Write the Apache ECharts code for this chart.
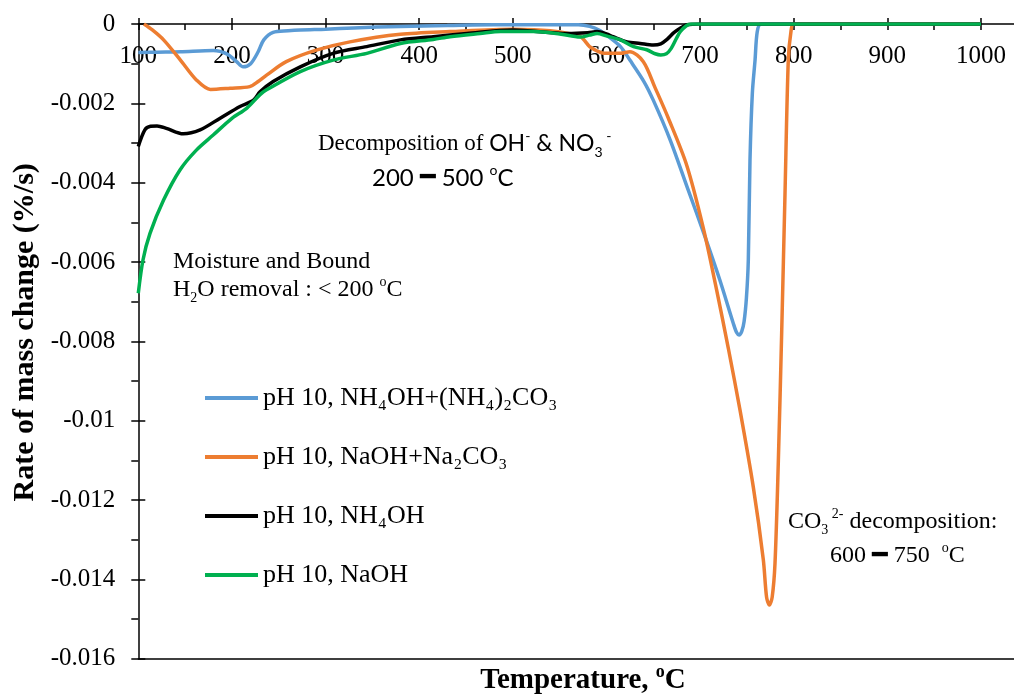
<!DOCTYPE html>
<html><head><meta charset="utf-8">
<script src="https://cdn.jsdelivr.net/npm/echarts@6/dist/echarts.min.js"></script>
<style>html,body{margin:0;padding:0;background:#fff}#c{width:1014px;height:695px}</style>
</head><body><div id="c"></div>
<script>
// ---- data ----
const seriesNames = ['pH 10, NH₄OH+(NH₄)₂CO₃', 'pH 10, NaOH+Na₂CO₃', 'pH 10, NH₄OH', 'pH 10, NaOH'];
const seriesColors = ['#5B9BD5', '#ED7D31', '#000000', '#00B050'];

const tempBlue = [100,120,145,180,195,205,212,220,228,234,244,260,273,300,330,380,430,480,520,570,582,592,600,615,625,640,650,668,686,704,721,735.5,739,741.6,744.5,747,749.5,751.5,753.3,755.8,758.7,761,765,800,900,1000];
const rateBlue = [-0.00072,-0.00071,-0.0007,-0.00067,-0.00076,-0.00095,-0.00108,-0.001,-0.0007,-0.0004,-0.00021,-0.00017,-0.00015,-0.00013,-0.0001,-0.00006,-0.00004,-0.00002,-0.00002,-0.00002,-0.00006,-0.00015,-0.00028,-0.00057,-0.00091,-0.00145,-0.00192,-0.00292,-0.0041,-0.00528,-0.00645,-0.00755,-0.00778,-0.00784,-0.00775,-0.0075,-0.0069,-0.00595,-0.00343,-0.00175,-0.00091,-0.0002,0,0,0,0];

const tempOrange = [106,115,127,145,162,177,198,219,228,237,258,290,326,380,433,500,540,572,582,590,597,607,615,625,639.4,652,666,685.7,703.4,717.7,730.1,742.6,756.8,767.5,771,774,777,780,783.5,787.2,790.7,794.2,797,800,850,1000];
const rateOrange = [0,-0.00015,-0.0004,-0.00091,-0.00141,-0.00165,-0.00162,-0.00158,-0.00145,-0.00129,-0.00095,-0.00066,-0.00045,-0.00026,-0.00019,-0.00013,-0.00017,-0.00032,-0.00057,-0.00068,-0.00074,-0.00074,-0.00074,-0.0007,-0.00095,-0.00161,-0.00237,-0.00356,-0.00514,-0.00671,-0.00817,-0.00973,-0.01167,-0.0135,-0.01445,-0.01465,-0.01445,-0.0136,-0.01108,-0.00772,-0.00427,-0.00091,-0.0002,0,0,0];

const tempBlack = [100,107,113,120,130,148,166,187,208.6,223,230,244,273,308,344,380,415,451,500,558,580,590,600,607,622,636,650,658,665,672,680,686,700,1000];
const rateBlack = [-0.00309,-0.00267,-0.00258,-0.00257,-0.00263,-0.00277,-0.00267,-0.00238,-0.00208,-0.00192,-0.00171,-0.00145,-0.00108,-0.00074,-0.00057,-0.0004,-0.00032,-0.00024,-0.00015,-0.00024,-0.00022,-0.00019,-0.00025,-0.00032,-0.00045,-0.00049,-0.00053,-0.0005,-0.00038,-0.00022,-0.00009,-0.00002,0,0];

const tempGreen = [100,105,112.5,127,144.5,162,180,200,216,230,237,273,308,344,380,415,433,465,487,522,550,572,582,590,600,615,629,643,652,658,664,669,675,679,685,690,700,1000];
const rateGreen = [-0.00679,-0.00595,-0.00528,-0.00444,-0.00368,-0.00318,-0.0028,-0.00238,-0.00212,-0.00178,-0.00166,-0.0012,-0.00091,-0.00074,-0.00049,-0.00039,-0.00032,-0.00024,-0.00019,-0.00019,-0.00025,-0.00033,-0.00028,-0.00024,-0.0003,-0.0004,-0.00057,-0.00065,-0.00075,-0.00078,-0.00075,-0.00062,-0.00035,-0.00019,-0.00005,0,0,0];

const xMin = 100, xMax = 1050, xStep = 100;
const yMin = -0.016, yMax = 0, yStep = 0.002;
const xTitle = 'Temperature, ';
const yTitle = 'Rate of mass change (%/s)';

// ---- chart ----
const serif = "'Liberation Serif','Times New Roman',serif";
const sans = "Lato,'Open Sans','Noto Sans',sans-serif";
const temps = [tempBlue, tempOrange, tempBlack, tempGreen];
const rates = [rateBlue, rateOrange, rateBlack, rateGreen];

const blk = { color: '#000', width: 1.5 };
const clear = { color: 'rgba(0,0,0,0)', width: 0 };

const rich = {
  s: { fontFamily: serif, fontSize: 24, lineHeight: 30, color: '#000' },
  s23: { fontFamily: serif, fontSize: 23, lineHeight: 30, color: '#000' },
  ssup: { fontFamily: serif, fontSize: 14, lineHeight: 14, verticalAlign: 'top', color: '#000' },
  ssub: { fontFamily: serif, fontSize: 14, lineHeight: 14, verticalAlign: 'bottom', color: '#000' },
  n: { fontFamily: sans, fontSize: 23, lineHeight: 30, color: '#000' },
  n24: { fontFamily: sans, fontSize: 24, lineHeight: 30, color: '#000' },
  d: { fontFamily: "'DejaVu Sans',sans-serif", fontSize: 26, lineHeight: 30, color: '#000' },
  nsup: { fontFamily: sans, fontSize: 14, lineHeight: 14, verticalAlign: 'top', color: '#000' },
  nsub: { fontFamily: sans, fontSize: 14, lineHeight: 14, verticalAlign: 'bottom', color: '#000' }
};
function note(x, y, text) {
  return { type: 'text', x: x, y: y, z: 50,
    style: { text: text, rich: rich, align: 'left', verticalAlign: 'middle', fill: '#000' } };
}

const chart = echarts.init(document.getElementById('c'), null, { renderer: 'canvas' });
chart.setOption({
  animation: false,
  backgroundColor: '#fff',
  grid: { left: 138.3, top: 24, width: 889.5, height: 634.6, outerBoundsMode: 'none' },
  xAxis: [
    { type: 'value', position: 'top', min: xMin, max: xMax, interval: xStep,
      axisLine: { show: true, onZero: false, lineStyle: blk },
      axisTick: { show: true, inside: true, length: 6, lineStyle: blk },
      minorTick: { show: true, splitNumber: 2, length: 6, lineStyle: blk },
      axisLabel: { inside: true, margin: 20, showMaxLabel: false, fontFamily: serif, fontSize: 25, color: '#000',
        formatter: v => (v % 100 === 0 && v <= 1000 ? String(v) : '') },
      splitLine: { show: false } },
    { type: 'value', position: 'top', offset: -6, min: xMin, max: xMax, interval: xStep,
      axisLine: { show: true, onZero: false, lineStyle: clear },
      axisTick: { show: true, inside: false, length: 12, lineStyle: blk },
      minorTick: { show: false },
      axisLabel: { show: false }, splitLine: { show: false } },
    { type: 'value', position: 'bottom', min: xMin, max: xMax, interval: xStep,
      axisLine: { show: true, onZero: false, lineStyle: blk },
      axisTick: { show: false }, axisLabel: { show: false }, splitLine: { show: false },
      name: '{t|' + xTitle + '}{o|o}{t|C}', nameLocation: 'middle', nameGap: 5,
      nameTextStyle: { rich: {
        t: { fontFamily: serif, fontWeight: 'bold', fontSize: 29, lineHeight: 33, color: '#000' },
        o: { fontFamily: serif, fontWeight: 'bold', fontSize: 18, lineHeight: 18, verticalAlign: 'top', color: '#000' } } } }
  ],
  yAxis: [
    { type: 'value', position: 'left', min: yMin, max: yMax, interval: yStep,
      axisLine: { show: true, onZero: false, lineStyle: blk },
      axisTick: { show: true, inside: false, length: 7, lineStyle: blk },
      minorTick: { show: true, splitNumber: 2, length: 7, lineStyle: blk },
      axisLabel: { margin: 23, fontFamily: serif, fontSize: 25, color: '#000',
        formatter: v => (Math.abs(v) < 1e-12 ? '0' : String(+v.toFixed(3))) },
      splitLine: { show: false },
      name: yTitle, nameLocation: 'middle', nameRotate: 90, nameGap: 98,
      nameTextStyle: { fontFamily: serif, fontWeight: 'bold', fontSize: 30, color: '#000', padding: [0, 0, 0, 18] } },
    { type: 'value', position: 'left', offset: -7, min: yMin, max: yMax, interval: yStep,
      axisLine: { show: true, onZero: false, lineStyle: clear },
      axisTick: { show: true, inside: false, length: 14, lineStyle: blk },
      minorTick: { show: false },
      axisLabel: { show: false }, splitLine: { show: false } }
  ],
  legend: {
    data: seriesNames, orient: 'vertical', left: 205, top: 385, padding: 0,
    icon: 'rect', itemWidth: 53, itemHeight: 4, itemGap: 33,
    textStyle: { fontFamily: serif, fontSize: 26, color: '#000' }
  },
  series: seriesNames.map((name, i) => ({
    name: name, type: 'line', xAxisIndex: 0, yAxisIndex: 0,
    data: temps[i].map((t, j) => [t, rates[i][j]]),
    showSymbol: false, smooth: 0.3,
    color: seriesColors[i],
    lineStyle: { color: seriesColors[i], width: 3.5 },
    z: 3 + i
  })),
  graphic: [
    note(318, 144, '{s23|Decomposition of }{n|OH}{nsup|-}{n| & NO}{nsub|3}{nsup| -}'),
    note(372, 178, '{n24|200 }{d|━}{n24| 500 }{nsup|o}{n24|C}'),
    note(173, 262, '{s|Moisture and Bound}'),
    note(173, 290, '{s|H}{ssub|2}{s|O removal : < 200 }{ssup|o}{s|C}'),
    note(788, 522, '{s|CO}{ssub|3}{ssup| 2-}{s| decomposition:}'),
    note(830, 556, '{s|600 }{d|━}{s| 750  }{ssup|o}{s|C}')
  ]
});
</script></body></html>
